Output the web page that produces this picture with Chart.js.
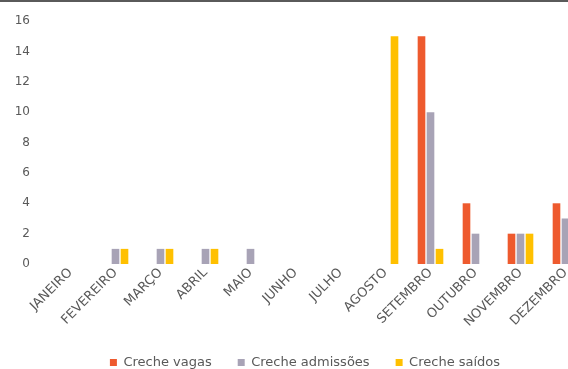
<!DOCTYPE html>
<html lang="pt">
<head>
  <meta charset="UTF-8">
  <title>Creche</title>
  <script src="https://cdn.jsdelivr.net/npm/chart.js"></script>
  <style>
    html, body {
      margin: 0;
      padding: 0;
      background: #ffffff;
      overflow: hidden;
      width: 568px;
      height: 369px;
    }
    .topline {
      position: absolute;
      left: 0; top: 0;
      width: 568px; height: 2px;
      background: #5a5a5a;
    }
    .wrap {
      position: absolute;
      left: 0; top: 0;
      width: 588px; height: 379px;
    }
  </style>
</head>
<body>
  <div class="wrap"><canvas id="crecheChart" width="588" height="379"></canvas></div>
  <div class="topline"></div>

  <script>
    const meses = ['JANEIRO', 'FEVEREIRO', 'MARÇO', 'ABRIL', 'MAIO', 'JUNHO', 'JULHO', 'AGOSTO', 'SETEMBRO', 'OUTUBRO', 'NOVEMBRO', 'DEZEMBRO'];
    const vagas = [0, 0, 0, 0, 0, 0, 0, 0, 15, 4, 2, 4];
    const admissoes = [0, 1, 1, 1, 1, 0, 0, 0, 10, 2, 2, 3];
    const saidas = [0, 1, 1, 1, 0, 0, 0, 15, 1, 0, 2, 0];
    const yTicks = [0, 2, 4, 6, 8, 10, 12, 14, 16];

    const textColor = '#595959';
    const fontFamily = '"DejaVu Sans", sans-serif';

    // nudge the legend a little to the right, as in the picture
    const legendShift = {
      id: 'legendShift',
      afterLayout(chart) {
        chart.legend.left += 11;
        chart.legend.right += 11;
      }
    };

    const ctx = document.getElementById('crecheChart').getContext('2d');

    new Chart(ctx, {
      type: 'bar',
      data: {
        labels: meses,
        datasets: [
          { label: 'Creche vagas', data: vagas, backgroundColor: '#ee5a2e' },
          { label: 'Creche admissões', data: admissoes, backgroundColor: '#a8a3b6' },
          { label: 'Creche saídos', data: saidas, backgroundColor: '#ffc000' }
        ]
      },
      plugins: [legendShift],
      options: {
        responsive: false,
        animation: false,
        datasets: {
          bar: { categoryPercentage: 0.6, barPercentage: 0.85 }
        },
        layout: { padding: { top: 21, left: 0, right: 0, bottom: 0 } },
        plugins: {
          legend: {
            position: 'bottom',
            labels: {
              boxWidth: 7,
              boxHeight: 7,
              padding: 26,
              color: textColor,
              font: { family: fontFamily, size: 13 }
            }
          },
          tooltip: { enabled: false }
        },
        scales: {
          x: {
            grid: { display: false, tickLength: 1 },
            border: { display: false },
            ticks: {
              color: textColor,
              font: { family: fontFamily, size: 13 },
              minRotation: 45,
              maxRotation: 45,
              autoSkip: false,
              padding: 0
            }
          },
          y: {
            min: 0,
            max: 16,
            afterBuildTicks: (scale) => { scale.ticks = yTicks.map(v => ({ value: v })); },
            afterFit: (scale) => { scale.width = 48; },
            grid: { display: false, tickLength: 18 },
            border: { display: false },
            ticks: {
              color: textColor,
              font: { family: fontFamily, size: 12 },
              padding: 0
            }
          }
        }
      }
    });
  </script>
</body>
</html>
